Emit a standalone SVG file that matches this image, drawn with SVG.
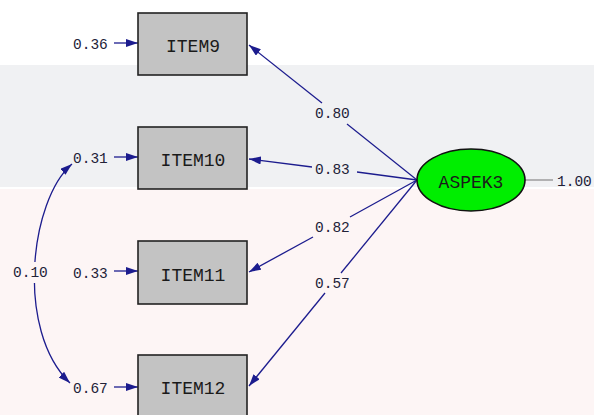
<svg xmlns="http://www.w3.org/2000/svg" width="594" height="415" viewBox="0 0 594 415">
<style>
.box{fill:#c3c3c3;stroke:#222;stroke-width:1.6}
.lat{fill:#00ee00;stroke:#111;stroke-width:1.6}
.lbl{font-family:"Liberation Mono","DejaVu Sans Mono",monospace;font-size:18px;fill:#1a1a1a;text-anchor:middle}
.num{font-family:"Liberation Mono","DejaVu Sans Mono",monospace;font-size:14.5px;fill:#222238}
.ln{stroke:#1c1c8e;stroke-width:1.3;fill:none}
</style>
<defs>
<marker id="ah" markerUnits="userSpaceOnUse" markerWidth="12" markerHeight="8" refX="12" refY="4" orient="auto-start-reverse">
<path d="M0,0 L12,4 L0,8 z" fill="#1c1c8e"/>
</marker>
<mask id="m">
<rect x="0" y="0" width="594" height="415" fill="#fff"/>
<rect x="10" y="262" width="44" height="21" fill="#000"/>
</mask>
</defs>
<g id="background">
<rect x="0" y="0" width="594" height="415" fill="#ffffff"/>
<rect x="0" y="65" width="594" height="122" fill="#f0f1f3"/>
<rect x="0" y="189" width="594" height="226" fill="#fdf5f5"/>
</g>
<g id="connectors">
<path class="ln" d="M322,103 L249,45" marker-end="url(#ah)"/>
<path class="ln" d="M417,180 L347,124"/>
<path class="ln" d="M312,167 L249,159" marker-end="url(#ah)"/>
<path class="ln" d="M417,180 L357,172"/>
<path class="ln" d="M313,237 L249,272" marker-end="url(#ah)"/>
<path class="ln" d="M417,180 L350,217"/>
<path class="ln" d="M325,293 L249,386" marker-end="url(#ah)"/>
<path class="ln" d="M417,180 L341,273"/>
<path class="ln" d="M114,43 L138,43" marker-end="url(#ah)"/>
<path class="ln" d="M114,157 L138,157" marker-end="url(#ah)"/>
<path class="ln" d="M114,271 L138,271" marker-end="url(#ah)"/>
<path class="ln" d="M114,387 L138,387" marker-end="url(#ah)"/>
<path class="ln" d="M72,164 C30,200 15,330 70,383" marker-start="url(#ah)" marker-end="url(#ah)" mask="url(#m)"/>
<path d="M525,180 L553,180" stroke="#888" stroke-width="1.2"/>
</g>
<g id="ITEM9">
<rect class="box" x="138" y="13" width="109" height="62"/>
<text class="lbl" x="193" y="52">ITEM9</text>
<text class="num" x="73" y="49">0.36</text>
</g>
<g id="ITEM10">
<rect class="box" x="138" y="127" width="109" height="62"/>
<text class="lbl" x="193" y="166">ITEM10</text>
<text class="num" x="73" y="163">0.31</text>
</g>
<g id="ITEM11">
<rect class="box" x="138" y="241" width="109" height="63"/>
<text class="lbl" x="193" y="281">ITEM11</text>
<text class="num" x="73" y="278">0.33</text>
</g>
<g id="ITEM12">
<rect class="box" x="138" y="355" width="109" height="63"/>
<text class="lbl" x="193" y="394">ITEM12</text>
<text class="num" x="73" y="393">0.67</text>
</g>
<g id="ASPEK3">
<ellipse class="lat" cx="471" cy="180" rx="54" ry="31"/>
<text class="lbl" x="471" y="188">ASPEK3</text>
<text class="num" x="557" y="186">1.00</text>
</g>
<g id="labels">
<text class="num" x="315" y="118">0.80</text>
<text class="num" x="315" y="174">0.83</text>
<text class="num" x="315" y="232">0.82</text>
<text class="num" x="315" y="288">0.57</text>
<text class="num" x="13" y="277">0.10</text>
</g>
</svg>
